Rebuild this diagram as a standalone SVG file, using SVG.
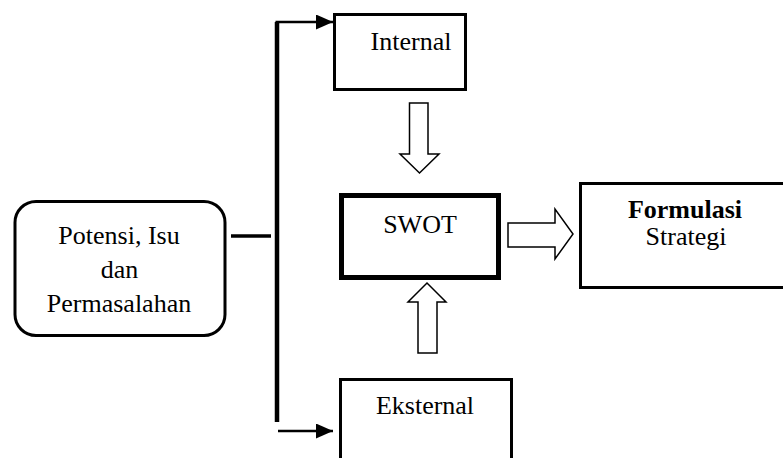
<svg xmlns="http://www.w3.org/2000/svg" width="783" height="458" viewBox="0 0 783 458">
<style>
.box{fill:#fff;stroke:#000;stroke-width:3}
.hollow{fill:#fff;stroke:#000;stroke-width:1.5;stroke-linejoin:miter}
.line{stroke:#000;fill:none}
</style>
<defs>
<marker id="ah" markerUnits="userSpaceOnUse" markerWidth="17" markerHeight="15" refX="17" refY="7.5" orient="auto">
<path d="M0,0 L17,7.5 L0,15 Z" fill="#000"/>
</marker>
</defs>
<rect width="783" height="458" fill="#fff"/>
<g id="connectors">
<line class="line" x1="231" y1="236" x2="271" y2="236" stroke-width="3.5"/>
<line class="line" x1="277" y1="22" x2="277" y2="422" stroke-width="4.5"/>
<line class="line" x1="275.5" y1="22" x2="333" y2="22" stroke-width="2.5" marker-end="url(#ah)"/>
<line class="line" x1="278" y1="431" x2="333" y2="431" stroke-width="2.5" marker-end="url(#ah)"/>
<polygon class="hollow" points="409.5,103 428,103 428,154 439,154 419.5,173 400,154 409.5,154"/>
<polygon class="hollow" points="418,353 437,353 437,302 446,302 427,283 408,302 418,302"/>
<polygon class="hollow" points="508,223 555,223 555,209 573,234 555,259 555,247 508,247"/>
</g>
<g font-family="Liberation Serif, Times New Roman, serif" font-size="26" text-anchor="middle" fill="#000">
<g id="potensi">
<rect class="box" x="15" y="201.5" width="210" height="134" rx="21" ry="21"/>
<text x="119" y="244">Potensi, Isu</text>
<text x="119.5" y="278">dan</text>
<text x="119" y="312">Permasalahan</text>
</g>
<g id="internal">
<rect class="box" x="334.5" y="14.5" width="131" height="75"/>
<text x="411" y="50">Internal</text>
</g>
<g id="swot">
<rect class="box" x="341.5" y="195.5" width="157" height="82" style="stroke-width:5"/>
<text x="420" y="233">SWOT</text>
</g>
<g id="formulasi">
<rect class="box" x="580.5" y="183.5" width="220" height="104"/>
<text x="685" y="218" font-weight="bold">Formulasi</text>
<text x="686" y="245">Strategi</text>
</g>
<g id="eksternal">
<rect class="box" x="340.5" y="379.5" width="171" height="100"/>
<text x="425" y="414">Eksternal</text>
</g>
</g>
</svg>
